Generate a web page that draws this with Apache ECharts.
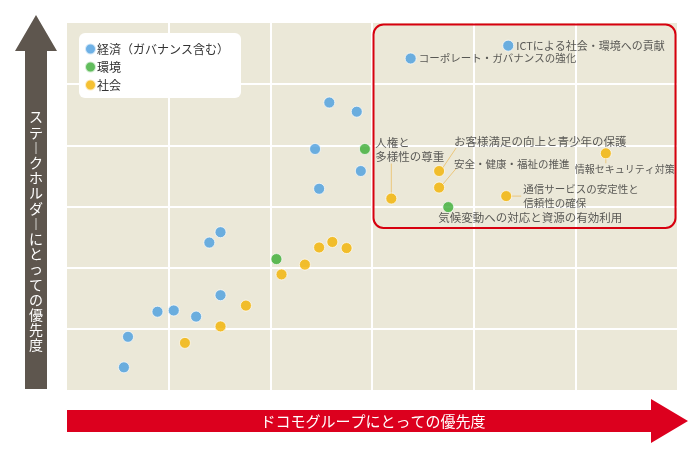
<!DOCTYPE html>
<html>
<head>
<meta charset="utf-8">
<script src="https://cdn.jsdelivr.net/npm/echarts@6/dist/echarts.min.js"></script>
<style>
html,body{margin:0;padding:0;background:#fff;}
#main{width:700px;height:459px;}
</style>
</head>
<body>
<div id="main"></div>
<script>
// ---- data (grid units: 0..6 on both axes) ----
const seriesNames = ['経済（ガバナンス含む）', '環境', '社会'];
const xTicks = [0, 1, 2, 3, 4, 5, 6];
const yTicks = [0, 1, 2, 3, 4, 5, 6];

const economyPoints = [
  [2.58, 4.70, ''], [2.85, 4.55, ''], [2.44, 3.94, ''], [2.89, 3.58, ''],
  [2.48, 3.29, ''], [1.51, 2.58, ''], [1.40, 2.41, ''], [1.51, 1.55, ''],
  [0.89, 1.28, ''], [1.05, 1.30, ''], [1.27, 1.20, ''], [0.60, 0.87, ''],
  [0.56, 0.37, ''],
  [3.38, 5.42, 'コーポレート・ガバナンスの強化'],
  [4.34, 5.63, 'ICTによる社会・環境への貢献']
];
const environmentPoints = [
  [2.93, 3.94, ''], [2.06, 2.14, ''],
  [3.75, 2.99, '気候変動への対応と資源の有効利用']
];
const societyPoints = [
  [2.61, 2.42, ''], [2.48, 2.33, ''], [2.75, 2.32, ''], [2.34, 2.05, ''],
  [2.11, 1.89, ''], [1.76, 1.38, ''], [1.51, 1.04, ''], [1.16, 0.77, ''],
  [3.19, 3.13, '人権と\n多様性の尊重'],
  [3.66, 3.58, 'お客様満足の向上と青少年の保護'],
  [3.66, 3.31, '安全・健康・福祉の推進'],
  [4.32, 3.17, '通信サービスの安定性と\n信頼性の確保'],
  [5.30, 3.87, '情報セキュリティ対策']
];
// highlighted region (data units)
const focusX = [3, 6];
const focusY = [2.65, 6];

const xAxisTitle = 'ドコモグループにとっての優先度';
const yAxisTitle = 'ステークホルダーにとっての優先度';

// ---- styles ----
const colors = ['#4a9de0', '#3aad35', '#f2b200'];
const FONT = "'Noto Sans CJK JP', 'Noto Sans', sans-serif";
const labelStyle = {
  'コーポレート・ガバナンスの強化': {position: 'right', distance: 2, fontSize: 10.5},
  'ICTによる社会・環境への貢献': {position: 'right', distance: 2, fontSize: 11},
  '気候変動への対応と資源の有効利用': {position: 'inside', align: 'left', verticalAlign: 'middle', offset: [-10, 11]},
  '人権と\n多様性の尊重': {position: 'inside', align: 'left', verticalAlign: 'bottom', offset: [-16, -35]},
  'お客様満足の向上と青少年の保護': {position: 'inside', align: 'left', verticalAlign: 'middle', offset: [15, -29]},
  '安全・健康・福祉の推進': {position: 'inside', align: 'left', verticalAlign: 'middle', offset: [15, -24], fontSize: 10.5},
  '通信サービスの安定性と\n信頼性の確保': {position: 'inside', align: 'left', verticalAlign: 'middle', offset: [17, 0], fontSize: 10.5},
  '情報セキュリティ対策': {position: 'inside', align: 'center', verticalAlign: 'middle', offset: [19, 16], fontSize: 10}
};
// leader lines: pixel offsets from the point [x1,y1,x2,y2]
const leaderStyle = {
  '人権と\n多様性の尊重': [0, -5, 0, -35],
  'お客様満足の向上と青少年の保護': [3.5, -3, 17, -23],
  '安全・健康・福祉の推進': [3.5, -3, 17, -19],
  '通信サービスの安定性と\n信頼性の確保': [5, 0, 15, 0],
  '情報セキュリティ対策': [0, 5, 0, 10]
};

function toItems(points) {
  return points.map(function (p) {
    const item = {value: [p[0], p[1]], name: p[2]};
    if (p[2]) {
      const s = labelStyle[p[2]];
      item.label = Object.assign({
        show: true, formatter: p[2], color: '#333', fontSize: 11.5,
        lineHeight: 14, fontFamily: FONT
      }, s);
    }
    return item;
  });
}

const leaderData = [].concat(economyPoints, environmentPoints, societyPoints)
  .filter(function (p) { return leaderStyle[p[2]]; })
  .map(function (p) { return {value: [p[0], p[1]], name: p[2]}; });

const chart = echarts.init(document.getElementById('main'), null, {renderer: 'canvas'});

const axisCommon = {
  type: 'value', min: 0, max: 6, interval: 1,
  axisLine: {show: false}, axisTick: {show: false}, axisLabel: {show: false},
  splitLine: {show: true, showMinLine: false, showMaxLine: false, lineStyle: {color: '#ffffff', width: 2}}
};

const scatterCommon = {
  type: 'scatter', symbol: 'circle', symbolSize: 11,
  itemStyle: {borderColor: 'rgba(255,255,255,0.85)', borderWidth: 1},
  label: {show: false},
  emphasis: {disabled: true},
  z: 5
};

chart.setOption({
  animation: false,
  color: colors,
  textStyle: {fontFamily: FONT},
  grid: {
    left: 67, top: 23, right: 23, bottom: 69, show: true,
    backgroundColor: '#ebe8d8', borderWidth: 0
  },
  xAxis: axisCommon,
  yAxis: axisCommon,
  legend: {
    data: seriesNames,
    orient: 'vertical', left: 79, top: 33,
    icon: 'circle', itemWidth: 11, itemHeight: 11, itemGap: 4,
    backgroundColor: '#ffffff', borderRadius: 6,
    padding: [9, 12, 6, 5],
    textStyle: {fontSize: 12, color: '#333', fontFamily: FONT, lineHeight: 14, padding: [0, 0, 0, -4]},
    selectedMode: false
  },
  series: [
    Object.assign({}, scatterCommon, {name: seriesNames[0], data: toItems(economyPoints)}),
    Object.assign({}, scatterCommon, {name: seriesNames[1], data: toItems(environmentPoints)}),
    Object.assign({}, scatterCommon, {name: seriesNames[2], data: toItems(societyPoints)}),
    {
      type: 'custom', name: 'leaders', silent: true, z: 4,
      data: leaderData,
      renderItem: function (params, api) {
        const pt = api.coord([api.value(0), api.value(1)]);
        const d = leaderStyle[leaderData[params.dataIndex].name];
        return {
          type: 'line',
          shape: {x1: pt[0] + d[0], y1: pt[1] + d[1], x2: pt[0] + d[2], y2: pt[1] + d[3]},
          style: {stroke: '#ebc77c', lineWidth: 1}
        };
      }
    }
  ]
});

// decorations: focus box + axis arrows
const p0 = chart.convertToPixel({gridIndex: 0}, [focusX[0], focusY[1]]);
const p1 = chart.convertToPixel({gridIndex: 0}, [focusX[1], focusY[0]]);
const inset = 1.5;
const vText = yAxisTitle.split('').map(function (c) { return c === 'ー' ? '︱' : c; }).join('\n');

chart.setOption({
  graphic: [
    {
      type: 'rect', z: 3,
      shape: {x: p0[0] + inset, y: p0[1] + inset, width: p1[0] - p0[0] - 2 * inset, height: p1[1] - p0[1] - inset, r: 10},
      style: {fill: 'none', stroke: '#d7000f', lineWidth: 2}
    },
    {
      type: 'polygon', z: 3,
      shape: {points: [[25, 389], [25, 51], [15, 51], [36, 15], [57, 51], [47, 51], [47, 389]]},
      style: {fill: '#5e564e'}
    },
    {
      type: 'text', z: 4,
      style: {
        text: vText, x: 36, y: 231, align: 'center', verticalAlign: 'middle',
        fill: '#ffffff', fontSize: 14, lineHeight: 15.2, fontFamily: FONT
      }
    },
    {
      type: 'polygon', z: 3,
      shape: {points: [[67, 410], [651, 410], [651, 399], [688, 421], [651, 443], [651, 432], [67, 432]]},
      style: {fill: '#dc001e'}
    },
    {
      type: 'text', z: 4,
      style: {
        text: xAxisTitle, x: 373, y: 421, align: 'center', verticalAlign: 'middle',
        fill: '#ffffff', fontSize: 15, fontFamily: FONT
      }
    }
  ]
});
</script>
</body>
</html>
